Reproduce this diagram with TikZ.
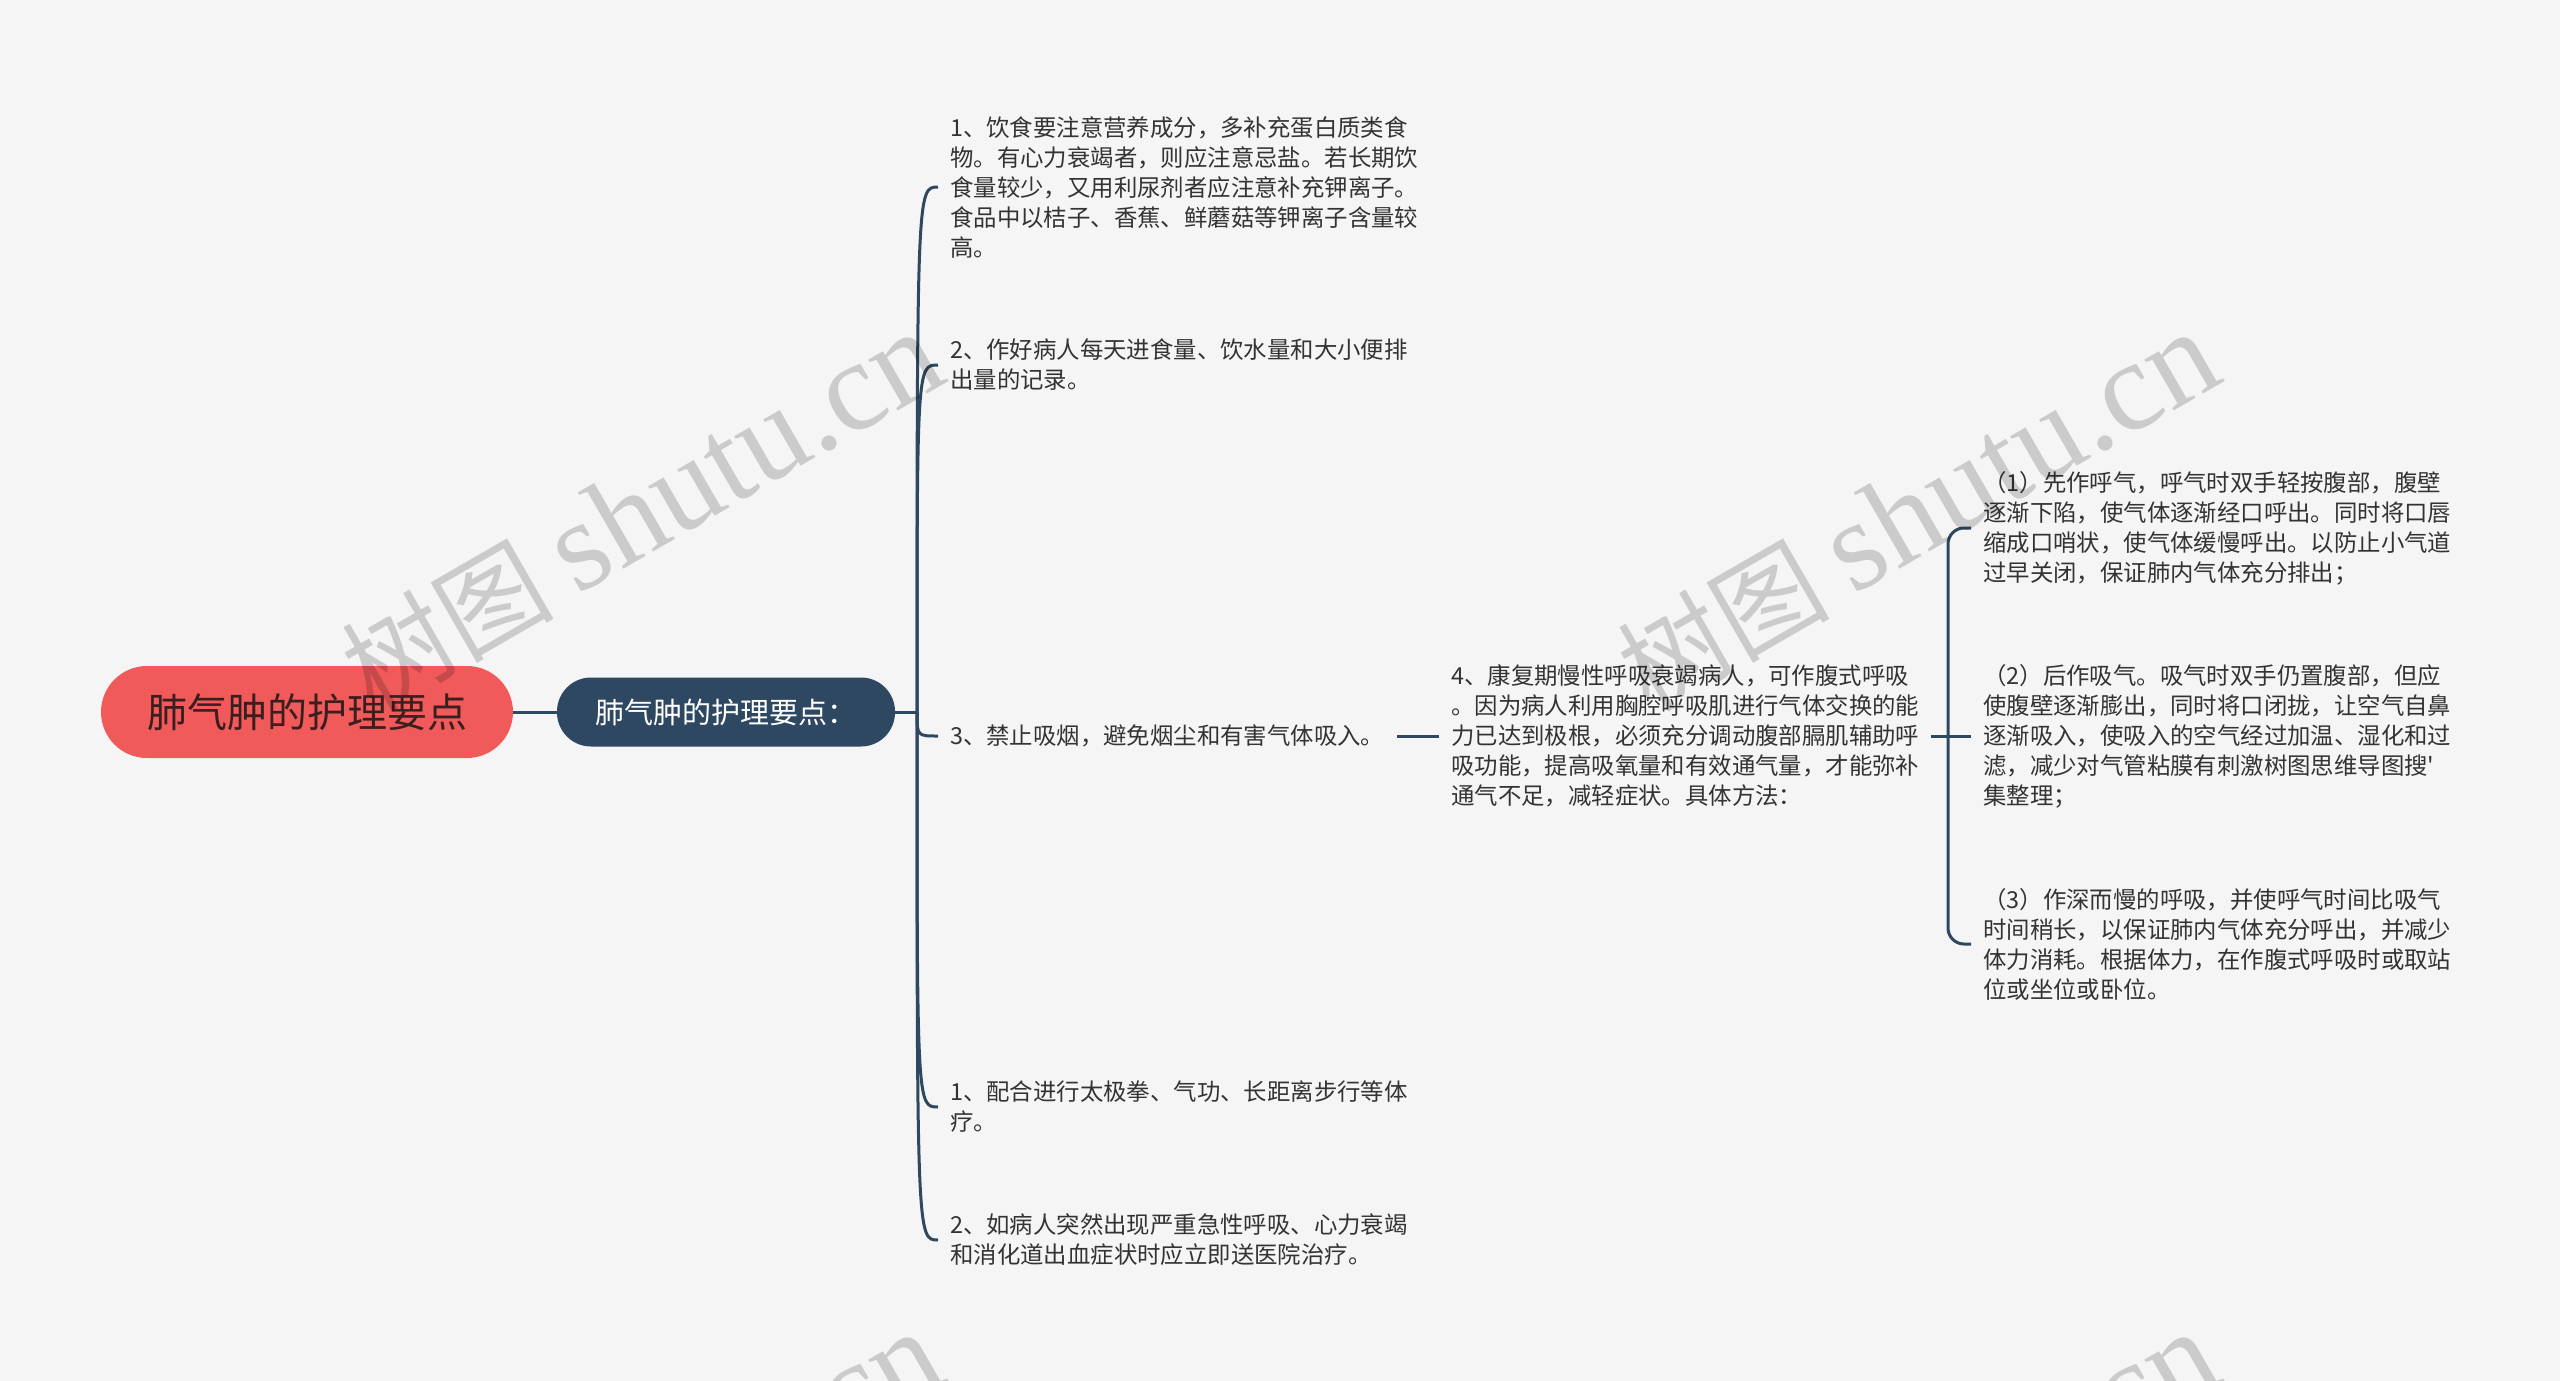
\documentclass[tikz,border=0pt]{standalone}
\usepackage{fontspec}
\setmainfont{Noto Sans CJK SC}
\newfontfamily\wmlatin{Liberation Serif}
\usetikzlibrary{calc}
\definecolor{bg}{HTML}{F5F5F5}
\definecolor{rootred}{HTML}{F05A5A}
\definecolor{navy}{HTML}{2E4862}
\definecolor{txt}{HTML}{333333}
\definecolor{roottxt}{HTML}{3B1E1E}
\tikzset{
  leaf/.style={anchor=west, align=left, inner xsep=12pt, inner ysep=0pt,
    font=\fontsize{23.4}{30}\selectfont, text=txt},
  link/.style={draw=navy, line width=3pt},
  rootnode/.style={fill=rootred, rounded corners=46pt, minimum width=412pt,
    minimum height=92pt, inner sep=0pt, text=roottxt, font=\fontsize{40}{40}\selectfont},
  subnode/.style={fill=navy, rounded corners=34pt, minimum width=338pt,
    minimum height=69pt, inner sep=0pt, text=white, font=\fontsize{29}{29}\selectfont},
  wm/.style={text=black, text opacity=0.17, inner sep=0pt, rotate=30,
    font=\fontsize{106}{106}\selectfont}
}
\begin{document}
\begin{tikzpicture}[x=1pt,y=-1pt]
\useasboundingbox (0,0) rectangle (2560,1381);
\fill[bg] (0,0) rectangle (2560,1381);

% nodes
\node[rootnode] (root) at (307,712) {肺气肿的护理要点};
\node[subnode] (second) at (726,712) {肺气肿的护理要点：};
\coordinate (J) at (917,712);

\node[leaf] (L1) at (938,187) {1、饮食要注意营养成分，多补充蛋白质类食\\物。有心力衰竭者，则应注意忌盐。若长期饮\\食量较少，又用利尿剂者应注意补充钾离子。\\食品中以桔子、香蕉、鲜蘑菇等钾离子含量较\\高。};
\node[leaf] (L2) at (938,365) {2、作好病人每天进食量、饮水量和大小便排\\出量的记录。};
\node[leaf] (L3) at (938,736) {3、禁止吸烟，避免烟尘和有害气体吸入。};
\node[leaf] (L4) at (938,1107) {1、配合进行太极拳、气功、长距离步行等体\\疗。};
\node[leaf] (L5) at (938,1240) {2、如病人突然出现严重急性呼吸、心力衰竭\\和消化道出血症状时应立即送医院治疗。};

\node[leaf] (N4) at (1439,736) {4、康复期慢性呼吸衰竭病人，可作腹式呼吸\\。因为病人利用胸腔呼吸肌进行气体交换的能\\力已达到极根，必须充分调动腹部膈肌辅助呼\\吸功能，提高吸氧量和有效通气量，才能弥补\\通气不足，减轻症状。具体方法：};
\coordinate (K) at (1948,736);

\node[leaf] (S1) at (1971,528) {（1）先作呼气，呼气时双手轻按腹部，腹壁\\逐渐下陷，使气体逐渐经口呼出。同时将口唇\\缩成口哨状，使气体缓慢呼出。以防止小气道\\过早关闭，保证肺内气体充分排出；};
\node[leaf] (S2) at (1971,736) {（2）后作吸气。吸气时双手仍置腹部，但应\\使腹壁逐渐膨出，同时将口闭拢，让空气自鼻\\逐渐吸入，使吸入的空气经过加温、湿化和过\\滤，减少对气管粘膜有刺激树图思维导图搜\textquotesingle\\集整理；};
\node[leaf] (S3) at (1971,944) {（3）作深而慢的呼吸，并使呼气时间比吸气\\时间稍长，以保证肺内气体充分呼出，并减少\\体力消耗。根据体力，在作腹式呼吸时或取站\\位或坐位或卧位。};

% connectors
\draw[link] (root.east) -- (second.west);
\draw[link] (second.east) -- (J);
\foreach \n in {L1,L2,L3,L4,L5}{
  \draw[link] (J) .. controls (J |- \n.west) and (J |- \n.west) .. (\n.west);
}
\draw[link] (L3.east) -- (N4.west);
\draw[link] (N4.east) -- (K);
\draw[link, rounded corners=16pt] (K) |- (S1.west);
\draw[link, rounded corners=16pt] (K) |- (S3.west);
\draw[link] (K) -- (S2.west);

% watermarks
\begin{scope}
\clip (0,0) rectangle (2560,1381);
\node[wm] (w1) at (642,512) {树图 {\wmlatin\fontsize{128}{128}\selectfont shutu.cn}};
\node[wm] (w2) at (1918,512) {树图 {\wmlatin\fontsize{128}{128}\selectfont shutu.cn}};
\node[wm] (w3) at (642,1512) {树图 {\wmlatin\fontsize{128}{128}\selectfont shutu.cn}};
\node[wm] (w4) at (1918,1512) {树图 {\wmlatin\fontsize{128}{128}\selectfont shutu.cn}};
\end{scope}
\end{tikzpicture}
\end{document}
